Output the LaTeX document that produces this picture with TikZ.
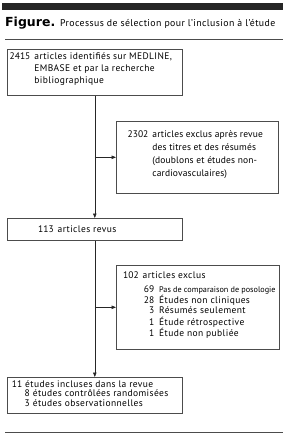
\documentclass[tikz,border=0pt]{standalone}
\usepackage{fontspec}
\setmainfont{PT Sans}[LetterSpace=4]
\newfontfamily\plainfont{PT Sans}
\newfontfamily\tightfont{PT Sans}[LetterSpace=1.5]
\newfontfamily\figfont{DejaVu Sans}
\newcommand\nb[1]{{\plainfont #1}}
\newcommand\nbgap[1]{\hphantom{\nb{#1}}\hspace{4pt}}
\usetikzlibrary{arrows.meta}
\begin{document}
\begin{tikzpicture}[x=1pt,y=-1pt,
  box/.style={draw=black!70, line width=0.6pt, anchor=north west, inner sep=0pt},
  txt/.style={anchor=base west, inner sep=0pt, font=\fontsize{9.5}{12}\selectfont},
  conn/.style={draw=black!85, line width=0.6pt},
  arr/.style={conn, -{Triangle[length=4.5pt,width=3.5pt]}},
  rule/.style={draw=black!70, line width=0.6pt}]
\useasboundingbox (0,0) rectangle (288,440);
\fill[black!85] (2,3.3) rectangle (283,10);
\node[anchor=base west, inner sep=0pt, font=\figfont\fontsize{12.5}{14}\selectfont\bfseries] (fig) at (5,26) {Figure.};
\node[anchor=base west, inner sep=0pt, font=\fontsize{9.8}{12}\selectfont] (ttl) at (60,26) {Processus de sélection pour l'inclusion à l'étude};
\draw[rule] (5,39) -- (283,39);
\draw[rule] (5,432) -- (283,432);
% boxes
\node[box, minimum width=175pt, minimum height=46pt] (b1) at (7,49) {};
\node[box, minimum width=162pt, minimum height=72pt] (b2) at (116,121) {};
\node[box, minimum width=175pt, minimum height=22pt] (b3) at (7,218) {};
\node[box, minimum width=163pt, minimum height=84pt] (b4) at (116,265) {};
\node[box, minimum width=175pt, minimum height=36pt] (b5) at (7,377) {};
% texts
\node[txt] (t1) at (9.5,59) {\begin{tabular}[t]{@{}l@{}}
\nb{2415}\hspace{4pt}articles identifiés sur MEDLINE,\\
\nbgap{2415}EMBASE et par la recherche\\
\nbgap{2415}bibliographique\end{tabular}};
\node[txt, font=\tightfont\fontsize{9.5}{13}\selectfont] (t2) at (127.5,137) {\begin{tabular}[t]{@{}l@{}}
\nb{2302}\hspace{4pt}articles exclus après revue\\
\nbgap{2302}des titres et des résumés\\
\nbgap{2302}(doublons et études non-\\
\nbgap{2302}cardiovasculaires)\end{tabular}};
\node[txt] (t3) at (38,232) {\nb{113}\hspace{4pt}articles revus};
\node[txt, font=\fontsize{9.5}{10.5}\selectfont] (t4) at (123,278) {\begin{tabular}[t]{@{}l@{}}
\nb{102}\hspace{4pt}articles exclus\\[3.5pt]
\hspace{17pt}\makebox[14pt][r]{\nb{69}}\hspace{5pt}{\plainfont\fontsize{8.2}{10.5}\selectfont Pas de comparaison de posologie}\\
\hspace{17pt}\makebox[14pt][r]{\nb{28}}\hspace{5pt}Études non cliniques\\
\hspace{17pt}\makebox[14pt][r]{\nb{3}}\hspace{5pt}Résumés seulement\\
\hspace{17pt}\makebox[14pt][r]{\nb{1}}\hspace{5pt}Étude rétrospective\\
\hspace{17pt}\makebox[14pt][r]{\nb{1}}\hspace{5pt}Étude non publiée\end{tabular}};
\node[txt, font=\fontsize{9.5}{9.5}\selectfont] (t5) at (11.7,387) {\begin{tabular}[t]{@{}l@{}}
\nb{11}\hspace{3pt}études incluses dans la revue\\
\hspace{11pt}\makebox[7pt][r]{\nb{8}}\hspace{3pt}études contrôlées randomisées\\
\hspace{11pt}\makebox[7pt][r]{\nb{3}}\hspace{3pt}études observationnelles\end{tabular}};
% connectors
\draw[arr] (b1.south) -- (b3.north);
\draw[arr] (b3.south) -- (b5.north);
\draw[arr] (b1.south |- b2.west) -- (b2.west);
\draw[arr] (b3.south |- b4.west) -- (b4.west);
\end{tikzpicture}
\end{document}
